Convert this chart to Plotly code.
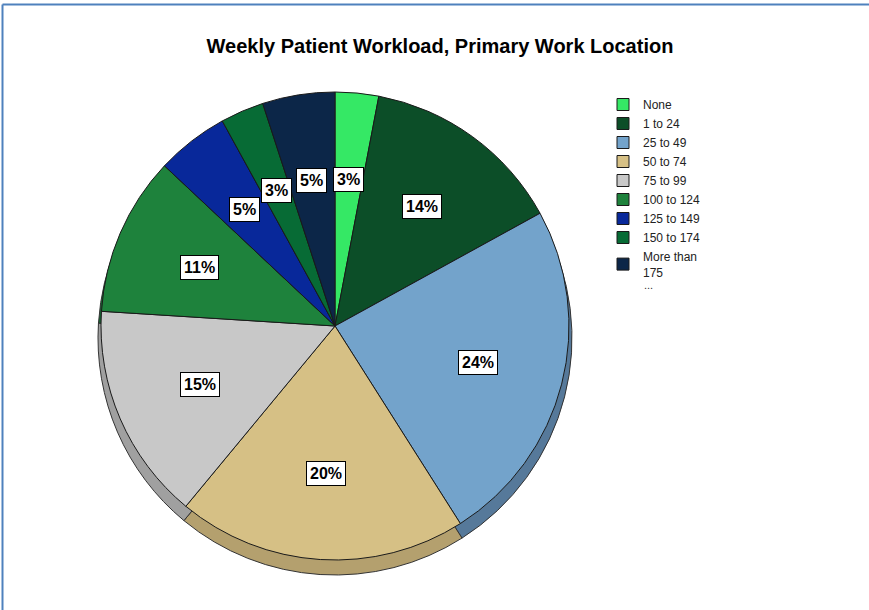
import math
import plotly.graph_objects as go

categories = ["None", "1 to 24", "25 to 49", "50 to 74", "75 to 99",
              "100 to 124", "125 to 149", "150 to 174", "More than<br>175"]
percent_values = [3, 14, 24, 20, 15, 11, 5, 3, 5]
colors = ["#35E865", "#0C4E28", "#73A3CB", "#D6C085", "#C8C8C8",
          "#1E823C", "#08289A", "#076B35", "#0C2648"]
shadow_colors = ["#28B04C", "#083A1E", "#56799A", "#B4A06E", "#A0A0A0",
                 "#166230", "#061E74", "#054F28", "#081C36"]
title_text = "Weekly Patient Workload, Primary Work Location"

W, H = 869, 610
cx, cy, R = 335, 326, 234
shadow_dy, shadow_dr = 12, 3


def dom(cxp, cyp, r):
    return dict(x=[(cxp - r) / W, (cxp + r) / W],
                y=[1 - (cyp + r) / H, 1 - (cyp - r) / H])


fig = go.Figure()
fig.add_trace(go.Pie(
    labels=categories, values=percent_values, sort=False, direction="clockwise",
    rotation=0, textinfo="none", hoverinfo="skip", showlegend=False,
    marker=dict(colors=shadow_colors, line=dict(color="#333333", width=1)),
    domain=dom(cx, cy + shadow_dy, R + shadow_dr),
))
fig.add_trace(go.Pie(
    labels=categories, values=percent_values, sort=False, direction="clockwise",
    rotation=0, textinfo="none",
    marker=dict(colors=colors, line=dict(color="#1A1A1A", width=1)),
    domain=dom(cx, cy, R),
))

# percentage labels in boxes
total = sum(percent_values)
cum = 0
annotations = []
for v in percent_values:
    mid = (cum + v / 2) / total * 2 * math.pi
    cum += v
    px = cx + 0.63 * R * math.sin(mid)
    py = cy - 0.63 * R * math.cos(mid)
    annotations.append(dict(
        x=px / W, y=1 - py / H, xref="paper", yref="paper",
        xanchor="center", yanchor="middle",
        text="<b>%d%%</b>" % round(v / total * 100), showarrow=False,
        font=dict(family="Liberation Sans, Arial", size=16, color="black"),
        bgcolor="white", bordercolor="black", borderwidth=1, borderpad=3,
    ))
annotations.append(dict(x=642 / W, y=1 - 285 / H, xref="paper", yref="paper",
                        text="...", showarrow=False, xanchor="left", yanchor="middle",
                        font=dict(family="Liberation Sans, Arial", size=11, color="#333333")))

fig.update_layout(
    width=W, height=H,
    margin=dict(l=0, r=0, t=0, b=0),
    paper_bgcolor="white", plot_bgcolor="white",
    title=dict(text="<b>" + title_text + "</b>", x=440 / W, xanchor="center",
               y=1 - 46 / H, yanchor="middle",
               font=dict(family="Liberation Sans, Arial", size=20, color="black")),
    legend=dict(x=603 / W, y=1 - 90 / H, xanchor="left", yanchor="top",
                font=dict(family="Liberation Sans, Arial", size=12, color="#222222"),
                itemclick=False, tracegroupgap=0, bgcolor="rgba(0,0,0,0)"),
    annotations=annotations,
    shapes=[
        dict(type="line", xref="paper", yref="paper", x0=2.5 / W, x1=1.0,
             y0=1 - 4.5 / H, y1=1 - 4.5 / H, line=dict(color="#4F81BD", width=2)),
        dict(type="line", xref="paper", yref="paper", x0=2.5 / W, x1=2.5 / W,
             y0=1 - 4.5 / H, y1=0, line=dict(color="#4F81BD", width=2)),
    ],
)

fig.write_html("out.html", config={"displayModeBar": False},
               post_script="document.body.style.margin='0';")
